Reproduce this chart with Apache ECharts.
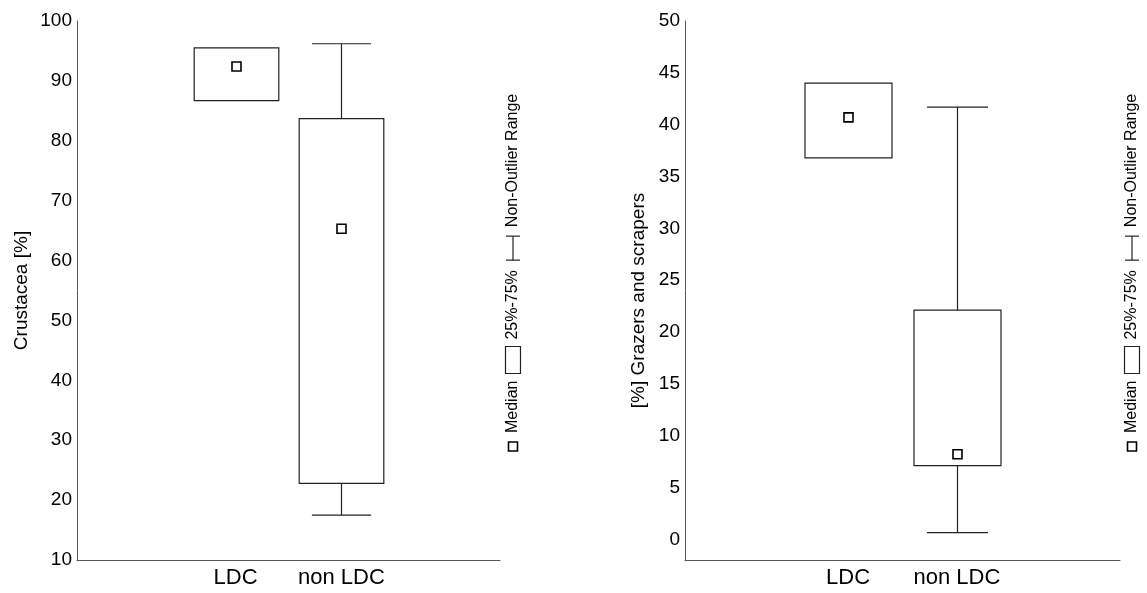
<!DOCTYPE html>
<html>
<head>
<meta charset="utf-8">
<script src="https://cdn.jsdelivr.net/npm/echarts@6/dist/echarts.min.js"></script>
<style>
  html, body { margin: 0; padding: 0; background: #fff; }
  #chart { width: 1147px; height: 593px; }
</style>
</head>
<body>
<div id="chart"></div>
<script>
// Categories on the x axis (outer slots are empty padding)
const categories = ['', 'LDC', 'non LDC', ''];
const groupIndex = [1, 2];

// Crustacea [%]: non-outlier min, 25%, median, 75%, non-outlier max
const crusMin    = [86.7, 17.5];
const crusQ1     = [86.7, 22.8];
const crusMedian = [92.4, 65.3];
const crusQ3     = [95.5, 83.7];
const crusMax    = [95.5, 96.2];

// [%] Grazers and scrapers
const grazMin    = [36.8, 0.65];
const grazQ1     = [36.8, 7.1];
const grazMedian = [40.7, 8.2];
const grazQ3     = [44.0, 22.1];
const grazMax    = [44.0, 41.7];

// Tick labels
const crusTicks = [10, 20, 30, 40, 50, 60, 70, 80, 90, 100];
const grazTicks = [0, 5, 10, 15, 20, 25, 30, 35, 40, 45, 50];

const FONT = '"Liberation Sans", Arial, Helvetica, sans-serif';
const LINE = '#222';
const AXIS = '#555';

function buildRows(mins, q1s, meds, q3s, maxs) {
  return groupIndex.map((g, i) => [g, mins[i], q1s[i], meds[i], q3s[i], maxs[i]]);
}

// Box: 25%-75%, whiskers: non-outlier range, small square: median
function renderBox(params, api) {
  const c = api.value(0);
  const lo = api.coord([c, api.value(1)]);
  const q1 = api.coord([c, api.value(2)]);
  const md = api.coord([c, api.value(3)]);
  const q3 = api.coord([c, api.value(4)]);
  const hi = api.coord([c, api.value(5)]);
  const slot = api.size([1, 0])[0];
  const bw = slot * 0.8;
  const cw = bw * 0.7;
  const x = Math.round(q1[0]) + 0.5;
  const line = { stroke: LINE, lineWidth: 1.2 };
  const kids = [];
  if (hi[1] < q3[1] - 0.5) {
    kids.push({ type: 'line', shape: { x1: x, y1: q3[1], x2: x, y2: hi[1] }, style: line });
    kids.push({ type: 'line', shape: { x1: x - cw / 2, y1: hi[1], x2: x + cw / 2, y2: hi[1] }, style: line });
  }
  if (lo[1] > q1[1] + 0.5) {
    kids.push({ type: 'line', shape: { x1: x, y1: q1[1], x2: x, y2: lo[1] }, style: line });
    kids.push({ type: 'line', shape: { x1: x - cw / 2, y1: lo[1], x2: x + cw / 2, y2: lo[1] }, style: line });
  }
  kids.push({
    type: 'rect',
    shape: { x: x - bw / 2, y: q3[1], width: bw, height: q1[1] - q3[1] },
    style: { fill: 'rgba(255,255,255,0)', stroke: LINE, lineWidth: 1.2 }
  });
  const s = 9;
  kids.push({
    type: 'rect',
    shape: { x: x - s / 2, y: md[1] - s / 2, width: s, height: s },
    style: { fill: '#fff', stroke: '#000', lineWidth: 1.6 }
  });
  return { type: 'group', children: kids };
}

// Legend drawn vertically, reading bottom to top
const measureCtx = document.createElement('canvas').getContext('2d');
function textWidth(t, size) {
  measureCtx.font = size + 'px ' + FONT;
  return measureCtx.measureText(t).width;
}
function legendGroup(cx, bottomY) {
  const fs = 16;
  const kids = [];
  let p = 0;
  const st = { stroke: LINE, lineWidth: 1.2, fill: '#fff' };
  const txt = (t, at) => ({ type: 'text', x: at, y: 0, style: { text: t, font: fs + 'px ' + FONT, fill: '#000', textVerticalAlign: 'middle', textAlign: 'left' } });
  kids.push({ type: 'rect', shape: { x: p, y: -4.5, width: 9, height: 9 }, style: { stroke: '#000', lineWidth: 1.6, fill: '#fff' } });
  p += 9 + 9;
  kids.push(txt('Median', p));
  p += textWidth('Median', fs) + 7;
  kids.push({ type: 'rect', shape: { x: p, y: -7.5, width: 27, height: 15 }, style: st });
  p += 27 + 7;
  kids.push(txt('25%-75%', p));
  p += textWidth('25%-75%', fs) + 10;
  kids.push({ type: 'line', shape: { x1: p, y1: -7, x2: p, y2: 7 }, style: { stroke: LINE, lineWidth: 1.2 } });
  kids.push({ type: 'line', shape: { x1: p, y1: 0, x2: p + 24, y2: 0 }, style: { stroke: LINE, lineWidth: 1.2 } });
  kids.push({ type: 'line', shape: { x1: p + 24, y1: -7, x2: p + 24, y2: 7 }, style: { stroke: LINE, lineWidth: 1.2 } });
  p += 24 + 9;
  kids.push(txt('Non-Outlier Range', p));
  return { type: 'group', x: cx, y: bottomY, rotation: Math.PI / 2, children: kids };
}

const chart = echarts.init(document.getElementById('chart'), null, { renderer: 'canvas' });

const xAxisBase = {
  type: 'category',
  data: categories,
  boundaryGap: true,
  axisLine: { onZero: false, lineStyle: { color: AXIS, width: 1 } },
  axisTick: { show: false },
  axisLabel: { interval: 0, color: '#000', fontSize: 22, fontFamily: FONT, margin: 7 },
  splitLine: { show: false }
};

const option = {
  backgroundColor: '#fff',
  animation: false,
  grid: [
    { left: 77, width: 423, top: 21, bottom: 33, containLabel: false },
    { left: 685, width: 435, top: 21, bottom: 33, containLabel: false }
  ],
  xAxis: [
    Object.assign({ gridIndex: 0 }, xAxisBase),
    Object.assign({ gridIndex: 1 }, xAxisBase)
  ],
  yAxis: [
    {
      gridIndex: 0, type: 'value', min: 10, max: 100, interval: 10,
      name: 'Crustacea [%]', nameLocation: 'middle', nameGap: 46,
      nameTextStyle: { color: '#000', fontSize: 19, fontFamily: FONT },
      axisLine: { show: true, onZero: false, lineStyle: { color: AXIS, width: 1 } },
      axisTick: { show: false },
      splitLine: { show: false },
      axisLabel: { color: '#000', fontSize: 19, fontFamily: FONT, margin: 5,
        customValues: crusTicks }
    },
    {
      gridIndex: 1, type: 'value', min: -2, max: 50,
      name: '[%] Grazers and scrapers', nameLocation: 'middle', nameGap: 37,
      nameTextStyle: { color: '#000', fontSize: 19, fontFamily: FONT, padding: [0, 20, 0, 0] },
      axisLine: { show: true, onZero: false, lineStyle: { color: AXIS, width: 1 } },
      axisTick: { show: false },
      splitLine: { show: false },
      axisLabel: { color: '#000', fontSize: 19, fontFamily: FONT, margin: 5,
        customValues: grazTicks }
    }
  ],
  series: [
    {
      type: 'custom', xAxisIndex: 0, yAxisIndex: 0,
      renderItem: renderBox,
      encode: { x: 0, y: [1, 2, 3, 4, 5] },
      data: buildRows(crusMin, crusQ1, crusMedian, crusQ3, crusMax)
    },
    {
      type: 'custom', xAxisIndex: 1, yAxisIndex: 1,
      renderItem: renderBox,
      encode: { x: 0, y: [1, 2, 3, 4, 5] },
      data: buildRows(grazMin, grazQ1, grazMedian, grazQ3, grazMax)
    }
  ],
  graphic: [legendGroup(513, 451), legendGroup(1132, 451)]
};

chart.setOption(option);
</script>
</body>
</html>
